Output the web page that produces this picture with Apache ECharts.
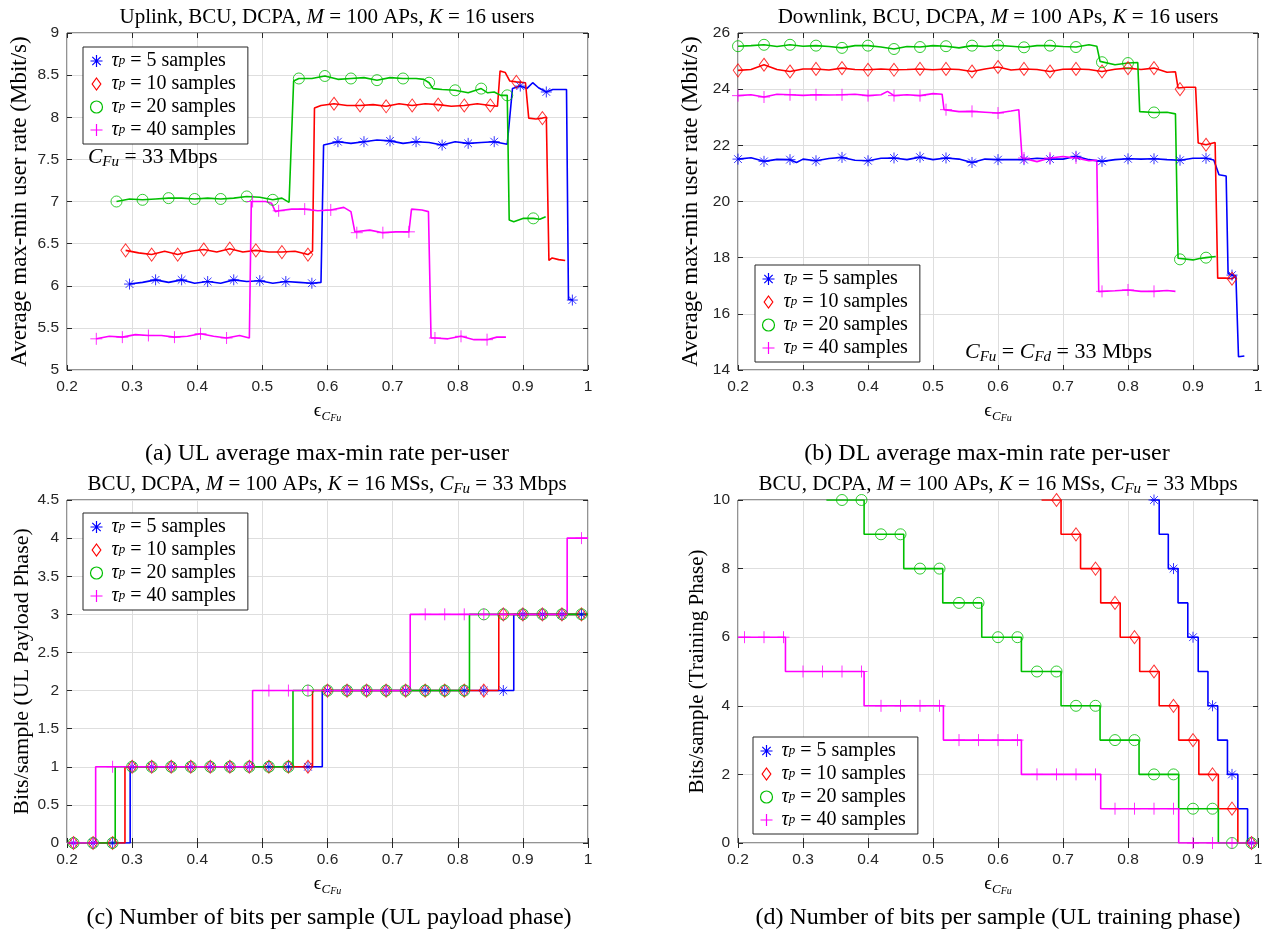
<!DOCTYPE html>
<html>
<head>
<meta charset="utf-8">
<script src="https://cdn.jsdelivr.net/npm/echarts@6/dist/echarts.min.js"></script>
<style>
html, body { margin: 0; background: #fff; }
#chart { width: 1267px; height: 933px; }
</style>
</head>
<body>
<div id="chart"></div>
<script>
// legend names and look
const names = ['τp = 5 samples', 'τp = 10 samples', 'τp = 20 samples', 'τp = 40 samples']
const tauValues = ['5', '10', '20', '40']
const colors = ['#0000ff', '#ff0000', '#00bf00', '#ff00ff']

// (a) uplink max-min rate: [eps, rate, marker]
const ulTau5 = [[0.296,6.02,1],[0.316,6.04],[0.336,6.07,1],[0.356,6.04],[0.376,6.07,1],[0.396,6.03],[0.416,6.05,1],[0.436,6.03],[0.456,6.07,1],[0.476,6.05],[0.496,6.06,1],[0.516,6.03],[0.536,6.05,1],[0.556,6.04],[0.576,6.03,1],[0.590,6.04],[0.594,7.67],[0.616,7.71,1],[0.636,7.69],[0.656,7.71,1],[0.676,7.73],[0.696,7.72,1],[0.716,7.69],[0.736,7.71,1],[0.756,7.70],[0.776,7.67,1],[0.796,7.71],[0.816,7.69,1],[0.836,7.70],[0.856,7.71,1],[0.876,7.68],[0.884,8.34],[0.896,8.37,1],[0.906,8.34],[0.915,8.41],[0.924,8.35],[0.936,8.30,1],[0.946,8.33],[0.967,8.33],[0.970,5.84],[0.976,5.83,1]]
const ulTau10 = [[0.290,6.42,1],[0.310,6.39],[0.330,6.37,1],[0.350,6.41],[0.370,6.37,1],[0.390,6.41],[0.410,6.43,1],[0.430,6.40],[0.450,6.44,1],[0.470,6.40],[0.490,6.42,1],[0.510,6.40],[0.530,6.40,1],[0.550,6.41],[0.570,6.37,1],[0.577,6.41],[0.580,8.11],[0.590,8.14],[0.610,8.16,1],[0.630,8.14],[0.650,8.14,1],[0.670,8.15],[0.690,8.13,1],[0.710,8.16],[0.730,8.14,1],[0.750,8.16],[0.770,8.15,1],[0.790,8.13],[0.810,8.14,1],[0.830,8.16],[0.850,8.14,1],[0.861,8.13],[0.865,8.55],[0.873,8.53],[0.880,8.43],[0.890,8.42,1],[0.904,8.41],[0.909,7.99],[0.920,7.98],[0.930,7.99,1],[0.936,8.00],[0.940,6.30],[0.945,6.33],[0.955,6.31],[0.965,6.30]]
const ulTau20 = [[0.276,7.00,1],[0.296,7.03],[0.316,7.02,1],[0.336,7.03],[0.356,7.04,1],[0.376,7.04],[0.396,7.03,1],[0.416,7.04],[0.436,7.03,1],[0.456,7.04],[0.476,7.06,1],[0.496,7.05],[0.516,7.02,1],[0.530,7.04],[0.541,6.99],[0.548,8.43],[0.556,8.46,1],[0.576,8.46],[0.596,8.49,1],[0.616,8.45],[0.636,8.46,1],[0.656,8.47],[0.676,8.44,1],[0.696,8.47],[0.716,8.46,1],[0.736,8.46],[0.748,8.45],[0.756,8.41,1],[0.762,8.34],[0.776,8.33],[0.796,8.32,1],[0.816,8.29],[0.836,8.34,1],[0.846,8.29],[0.856,8.30],[0.866,8.26],[0.876,8.26,1],[0.879,6.78],[0.886,6.76],[0.901,6.80],[0.916,6.80,1],[0.926,6.79],[0.935,6.82]]
const ulTau40 = [[0.245,5.37,1],[0.265,5.40],[0.285,5.39,1],[0.305,5.42],[0.325,5.41,1],[0.345,5.41],[0.365,5.39,1],[0.385,5.40],[0.405,5.43,1],[0.425,5.40],[0.445,5.38,1],[0.465,5.41],[0.480,5.38],[0.483,7.00],[0.485,7.00,1],[0.505,7.00],[0.514,6.98],[0.520,6.88],[0.525,6.89,1],[0.545,6.91],[0.565,6.91,1],[0.585,6.89],[0.605,6.90,1],[0.625,6.93],[0.636,6.88],[0.642,6.64],[0.645,6.63,1],[0.665,6.66],[0.685,6.63,1],[0.705,6.64],[0.725,6.64,1],[0.729,6.91],[0.745,6.90],[0.755,6.88],[0.759,5.38],[0.765,5.38,1],[0.785,5.37],[0.805,5.40,1],[0.825,5.36],[0.845,5.36,1],[0.860,5.39],[0.874,5.39]]

// (b) downlink max-min rate: [eps, rate, marker]
const dlTau5 = [[0.20,21.51,1],[0.22,21.56],[0.24,21.43,1],[0.26,21.50],[0.28,21.49,1],[0.29,21.39],[0.30,21.51],[0.32,21.45,1],[0.34,21.53],[0.36,21.57,1],[0.38,21.47],[0.40,21.45,1],[0.42,21.54],[0.44,21.55,1],[0.46,21.49],[0.48,21.58,1],[0.50,21.49],[0.52,21.55,1],[0.54,21.51],[0.56,21.39,1],[0.58,21.51],[0.60,21.49,1],[0.62,21.49],[0.64,21.49,1],[0.66,21.54],[0.68,21.51,1],[0.70,21.51],[0.72,21.61,1],[0.74,21.49],[0.76,21.43,1],[0.78,21.49],[0.80,21.52,1],[0.82,21.51],[0.84,21.52,1],[0.86,21.49],[0.88,21.47,1],[0.90,21.54],[0.92,21.54,1],[0.932,21.48],[0.940,20.95],[0.951,20.91],[0.954,17.44],[0.96,17.38,1],[0.966,17.35],[0.970,14.47],[0.979,14.50]]
const dlTau10 = [[0.20,24.67,1],[0.22,24.70],[0.24,24.87,1],[0.26,24.70],[0.28,24.63,1],[0.30,24.72],[0.32,24.72,1],[0.34,24.68],[0.36,24.75,1],[0.38,24.70],[0.40,24.69,1],[0.42,24.72],[0.44,24.69,1],[0.46,24.70],[0.48,24.72,1],[0.50,24.69],[0.52,24.72,1],[0.54,24.70],[0.56,24.63,1],[0.58,24.72],[0.60,24.79,1],[0.62,24.68],[0.64,24.72,1],[0.66,24.70],[0.68,24.63,1],[0.70,24.71],[0.72,24.72,1],[0.74,24.70],[0.76,24.63,1],[0.78,24.71],[0.80,24.75,1],[0.82,24.70],[0.84,24.75,1],[0.86,24.60],[0.873,24.62],[0.877,24.04],[0.88,24.00,1],[0.89,24.07],[0.904,24.07],[0.908,22.08],[0.92,22.02,1],[0.934,22.10],[0.938,17.27],[0.95,17.27],[0.96,17.25,1],[0.965,17.33]]
const dlTau20 = [[0.20,25.53,1],[0.22,25.55],[0.24,25.58,1],[0.26,25.52],[0.28,25.58,1],[0.30,25.53],[0.32,25.55,1],[0.34,25.52],[0.36,25.47,1],[0.38,25.55],[0.40,25.55,1],[0.42,25.50],[0.44,25.43,1],[0.46,25.52],[0.48,25.50,1],[0.50,25.55],[0.52,25.53,1],[0.54,25.47],[0.56,25.55,1],[0.58,25.52],[0.60,25.56,1],[0.62,25.53],[0.64,25.49,1],[0.66,25.55],[0.68,25.55,1],[0.70,25.52],[0.72,25.50,1],[0.74,25.58],[0.752,25.53],[0.757,24.99],[0.76,24.96,1],[0.78,24.87],[0.80,24.93,1],[0.815,24.95],[0.818,23.20],[0.84,23.17,1],[0.86,23.18],[0.873,23.12],[0.877,17.98],[0.88,17.94,1],[0.90,17.92],[0.91,17.97],[0.92,18.00,1],[0.935,18.04]]
const dlTau40 = [[0.20,23.77,1],[0.22,23.80],[0.24,23.72,1],[0.26,23.82],[0.28,23.80,1],[0.30,23.78],[0.32,23.80,1],[0.34,23.79],[0.36,23.80,1],[0.38,23.82],[0.40,23.77,1],[0.42,23.80],[0.43,23.92],[0.44,23.77,1],[0.46,23.80],[0.48,23.77,1],[0.50,23.84],[0.514,23.82],[0.517,23.27],[0.52,23.27,1],[0.54,23.20],[0.56,23.21,1],[0.58,23.18],[0.60,23.15,1],[0.62,23.22],[0.632,23.27],[0.637,21.55],[0.64,21.55,1],[0.66,21.42],[0.68,21.55,1],[0.70,21.60],[0.72,21.55,1],[0.74,21.45],[0.752,21.47],[0.755,16.79],[0.76,16.80,1],[0.78,16.82],[0.80,16.85,1],[0.82,16.80],[0.84,16.80,1],[0.86,16.83],[0.873,16.80]]

// (c), (d) marker positions
const epsMarks = [0.21,0.24,0.27,0.30,0.33,0.36,0.39,0.42,0.45,0.48,0.51,0.54,0.57,0.60,0.63,0.66,0.69,0.72,0.75,0.78,0.81,0.84,0.87,0.90,0.93,0.96,0.99]

// (c) bits/sample, payload phase
const payTau5 = [0,0,0,1,1,1,1,1,1,1,1,1,1,2,2,2,2,2,2,2,2,2,2,3,3,3,3]
const payTau10 = [0,0,0,1,1,1,1,1,1,1,1,1,1,2,2,2,2,2,2,2,2,2,3,3,3,3,3]
const payTau20 = [0,0,0,1,1,1,1,1,1,1,1,1,2,2,2,2,2,2,2,2,2,3,3,3,3,3,3]
const payTau40 = [0,0,1,1,1,1,1,1,1,1,2,2,2,2,2,2,2,2,3,3,3,3,3,3,3,3,4]
const payStep5 = [[0.2,0],[0.297,0],[0.297,1],[0.592,1],[0.592,2],[0.886,2],[0.886,3],[1,3]]
const payStep10 = [[0.2,0],[0.289,0],[0.289,1],[0.577,1],[0.577,2],[0.863,2],[0.863,3],[1,3]]
const payStep20 = [[0.2,0],[0.274,0],[0.274,1],[0.547,1],[0.547,2],[0.818,2],[0.818,3],[1,3]]
const payStep40 = [[0.2,0],[0.244,0],[0.244,1],[0.485,1],[0.485,2],[0.727,2],[0.727,3],[0.968,3],[0.968,4],[1,4]]

// (d) bits/sample, training phase
const trnTau5 = [null,null,null,null,null,null,null,null,null,null,null,null,null,null,null,null,null,null,null,null,null,10,8,6,4,2,0]
const trnTau10 = [null,null,null,null,null,null,null,null,null,null,null,null,null,null,null,null,10,9,8,7,6,5,4,3,2,1,0]
const trnTau20 = [null,null,null,null,null,10,10,9,9,8,8,7,7,6,6,5,5,4,4,3,3,2,2,1,1,0,0]
const trnTau40 = [6,6,6,5,5,5,5,4,4,4,4,3,3,3,3,2,2,2,2,1,1,1,1,0,0,0,0]
const trnStep5 = [[0.835,10],[0.848,10],[0.848,9],[0.862,9],[0.862,8],[0.877,8],[0.877,7],[0.892,7],[0.892,6],[0.908,6],[0.908,5],[0.923,5],[0.923,4],[0.938,4],[0.938,3],[0.953,3],[0.953,2],[0.969,2],[0.969,1],[0.984,1],[0.984,0],[1,0]]
const trnStep10 = [[0.667,10],[0.697,10],[0.697,9],[0.727,9],[0.727,8],[0.758,8],[0.758,7],[0.788,7],[0.788,6],[0.818,6],[0.818,5],[0.848,5],[0.848,4],[0.878,4],[0.878,3],[0.909,3],[0.909,2],[0.939,2],[0.939,1],[0.969,1],[0.969,0],[1,0]]
const trnStep20 = [[0.336,10],[0.394,10],[0.394,9],[0.455,9],[0.455,8],[0.515,8],[0.515,7],[0.575,7],[0.575,6],[0.636,6],[0.636,5],[0.697,5],[0.697,4],[0.757,4],[0.757,3],[0.817,3],[0.817,2],[0.878,2],[0.878,1],[0.939,1],[0.939,0],[1,0]]
const trnStep40 = [[0.2,6],[0.273,6],[0.273,5],[0.394,5],[0.394,4],[0.516,4],[0.516,3],[0.636,3],[0.636,2],[0.758,2],[0.758,1],[0.878,1],[0.878,0],[1,0]]

const serif = '"Liberation Serif", "DejaVu Serif", serif'
const sans = '"Liberation Sans", Arial, sans-serif'
const ink = '#262626'

// MATLAB markers: *, diamond, o, +
const markerPaths = [
	'path://M0,-1L0,1M-1,0L1,0M-0.7,-0.7L0.7,0.7M-0.7,0.7L0.7,-0.7',
	'path://M0,-1L0.72,0L0,1L-0.72,0Z',
	'path://M1,0A1,1,0,1,1,-1,0A1,1,0,1,1,1,0Z',
	'path://M0,-1L0,1M-1,0L1,0'
]
const markerSizes = [11, [9.5, 13], 11, 12]

// rich styles for echarts text (color) and zrender graphic (fill)
function rich(size, key) {
	const c = {}
	c[key] = '#000'
	return {
		n: Object.assign({fontFamily: serif, fontSize: size, lineHeight: size + 4}, c),
		i: Object.assign({fontFamily: serif, fontSize: size, fontStyle: 'italic', lineHeight: size + 4}, c),
		s: Object.assign({fontFamily: serif, fontSize: Math.round(size * 0.7), fontStyle: 'italic', lineHeight: 8, verticalAlign: 'bottom'}, c),
		ss: Object.assign({fontFamily: serif, fontSize: Math.round(size * 0.55), fontStyle: 'italic', lineHeight: 2, verticalAlign: 'bottom'}, c)
	}
}

const flagged = d => d.filter(p => p[2]).map(p => [p[0], p[1]])
const plain = d => d.map(p => [p[0], p[1]])
const sampled = v => epsMarks.map((x, i) => [x, v[i]]).filter(p => p[1] !== null)

const panels = [
	{
		grid: {left: 67, top: 33, width: 521, height: 337},
		y: [5, 9, 0.5], yName: 'Average max-min user rate (Mbit/s)', yNameSize: 23, yGap: 36,
		lines: [ulTau5, ulTau10, ulTau20, ulTau40].map(plain),
		marks: [ulTau5, ulTau10, ulTau20, ulTau40].map(flagged),
		legend: [83, 47]
	},
	{
		grid: {left: 738, top: 33, width: 520, height: 337},
		y: [14, 26, 2], yName: 'Average max-min user rate (Mbit/s)', yNameSize: 23, yGap: 36,
		lines: [dlTau5, dlTau10, dlTau20, dlTau40].map(plain),
		marks: [dlTau5, dlTau10, dlTau20, dlTau40].map(flagged),
		legend: [755, 265]
	},
	{
		grid: {left: 67, top: 500, width: 521, height: 343},
		y: [0, 4.5, 0.5], yName: 'Bits/sample (UL Payload Phase)', yNameSize: 22, yGap: 33,
		lines: [payStep5, payStep10, payStep20, payStep40],
		marks: [payTau5, payTau10, payTau20, payTau40].map(sampled),
		legend: [83, 513]
	},
	{
		grid: {left: 738, top: 500, width: 520, height: 343},
		y: [0, 10, 2], yName: 'Bits/sample (Training Phase)', yNameSize: 21, yGap: 30,
		lines: [trnStep5, trnStep10, trnStep20, trnStep40],
		marks: [trnTau5, trnTau10, trnTau20, trnTau40].map(sampled),
		legend: [753, 737]
	}
]

const tick = {inside: true, length: 5, lineStyle: {color: ink}}
const xAxis = []
const yAxis = []
const series = []

panels.forEach((p, pi) => {
	xAxis.push({
		gridIndex: pi, type: 'value', min: 0.2, max: 1, interval: 0.1,
		axisLine: {show: false}, axisTick: tick,
		axisLabel: {fontFamily: sans, fontSize: 15.5, color: ink, margin: 9},
		splitLine: {lineStyle: {color: '#dedede'}},
		name: '{n|ϵ}{s|C}{ss|Fu}', nameLocation: 'middle', nameGap: 30,
		nameTextStyle: {rich: rich(19, 'color')}
	})
	yAxis.push({
		gridIndex: pi, type: 'value', min: p.y[0], max: p.y[1], interval: p.y[2],
		axisLine: {show: false}, axisTick: tick,
		axisLabel: {fontFamily: sans, fontSize: 15.5, color: ink, margin: 8},
		splitLine: {lineStyle: {color: '#dedede'}},
		name: p.yName, nameLocation: 'middle', nameGap: p.yGap,
		nameTextStyle: {fontFamily: serif, fontSize: p.yNameSize, color: '#000'}
	})
	p.lines.forEach((data, k) => series.push({
		type: 'line', name: names[k], xAxisIndex: pi, yAxisIndex: pi, data: data,
		symbol: 'none', showSymbol: false, silent: true, z: 2,
		lineStyle: {color: colors[k], width: 1.6}, itemStyle: {color: colors[k]}
	}))
	p.marks.forEach((data, k) => series.push({
		type: 'scatter', name: names[k], xAxisIndex: pi, yAxisIndex: pi, data: data,
		symbol: markerPaths[k], symbolSize: markerSizes[k], silent: true, z: 3,
		itemStyle: {color: 'none', borderColor: colors[k], borderWidth: 1}
	}))
})
// mirrored ticks on top and right (MATLAB box)
panels.forEach((p, pi) => {
	xAxis.push({
		gridIndex: pi, type: 'value', position: 'top', min: 0.2, max: 1, interval: 0.1,
		axisLine: {show: false}, axisTick: tick, axisLabel: {show: false}, splitLine: {show: false}
	})
	yAxis.push({
		gridIndex: pi, type: 'value', position: 'right', min: p.y[0], max: p.y[1], interval: p.y[2],
		axisLine: {show: false}, axisTick: tick, axisLabel: {show: false}, splitLine: {show: false}
	})
})

const legendRich = {
	t: {fontFamily: serif, fontSize: 20, fontStyle: 'italic', color: '#000', lineHeight: 12},
	p: {fontFamily: serif, fontSize: 13, fontStyle: 'italic', color: '#000', lineHeight: 2, verticalAlign: 'bottom'},
	n: {fontFamily: serif, fontSize: 20, color: '#000', lineHeight: 12}
}

const legend = panels.map(p => ({
	left: p.legend[0], top: p.legend[1], orient: 'vertical',
	itemWidth: 20, itemHeight: 12, itemGap: 3,
	padding: [4, 12, 4, 5],
	borderColor: ink, borderWidth: 1, backgroundColor: '#fff',
	selectedMode: false,
	data: names.map((n, k) => ({
		name: n, icon: markerPaths[k],
		itemStyle: {color: 'none', borderColor: colors[k], borderWidth: 1.2}
	})),
	formatter: n => '{t|τ}{p|p}{n| = ' + tauValues[names.indexOf(n)] + ' samples}',
	textStyle: {fontSize: 12, lineHeight: 12, rich: legendRich}
}))

function label(x, y, text, size, align) {
	return {
		type: 'text', x: x, y: y, silent: true, z: 10,
		style: {
			text: text, rich: rich(size, 'fill'),
			fontFamily: serif, fontSize: size, fill: '#000',
			align: align || 'center', verticalAlign: 'middle'
		}
	}
}

const graphic = [
	label(327, 17, '{n|Uplink, BCU, DCPA, }{i|M}{n| = 100 APs, }{i|K}{n| = 16 users}', 21),
	label(998, 17, '{n|Downlink, BCU, DCPA, }{i|M}{n| = 100 APs, }{i|K}{n| = 16 users}', 21),
	label(327, 484, '{n|BCU, DCPA, }{i|M}{n| = 100 APs, }{i|K}{n| = 16 MSs, }{i|C}{s|Fu}{n| = 33 Mbps}', 21),
	label(998, 484, '{n|BCU, DCPA, }{i|M}{n| = 100 APs, }{i|K}{n| = 16 MSs, }{i|C}{s|Fu}{n| = 33 Mbps}', 21),
	label(88, 157, '{i|C}{s|Fu}{n| = 33 Mbps}', 21.5, 'left'),
	label(965, 352, '{i|C}{s|Fu}{n| = }{i|C}{s|Fd}{n| = 33 Mbps}', 22, 'left'),
	label(327, 454, '{n|(a) UL average max-min rate per-user}', 24),
	label(987, 454, '{n|(b) DL average max-min rate per-user}', 24),
	label(329, 918, '{n|(c) Number of bits per sample (UL payload phase)}', 24),
	label(998, 918, '{n|(d) Number of bits per sample (UL training phase)}', 24)
]

const chart = echarts.init(document.getElementById('chart'))
chart.setOption({
	animation: false,
	backgroundColor: '#fff',
	grid: panels.map(p => Object.assign({show: true, borderColor: ink, borderWidth: 1, backgroundColor: '#fff'}, p.grid)),
	xAxis: xAxis,
	yAxis: yAxis,
	legend: legend,
	graphic: graphic,
	series: series
})
</script>
</body>
</html>
